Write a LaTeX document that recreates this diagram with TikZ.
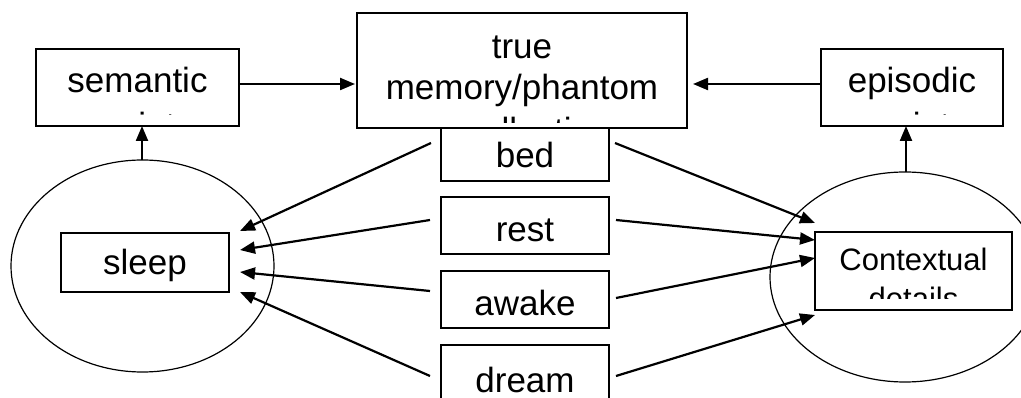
\documentclass[tikz,border=0pt]{standalone}
\usepackage{fontspec}
\setmainfont{Liberation Sans}
\usetikzlibrary{arrows.meta}
\begin{document}
\begin{tikzpicture}[x=1pt,y=-1pt,
  box/.style={draw,line width=1.6pt,rectangle},
  oval/.style={draw,line width=1.2pt},
  big/.style={font=\fontsize{35}{40.5}\selectfont,inner sep=0pt,anchor=base},
  small/.style={font=\fontsize{31}{36}\selectfont,inner sep=0pt,anchor=base},
  arr/.style={line width=2.2pt,-{Triangle[length=15pt,width=12pt]}}]
\useasboundingbox (0,0) rectangle (1021,398);
\clip (0,0) rectangle (1021,398);
% ellipses
\draw[oval] (142.5,266) ellipse [x radius=131.5, y radius=106];
\draw[oval] (905,277) ellipse [x radius=135, y radius=105];
% boxes
\draw[box] (36,49) rectangle (239,126);
\draw[box] (357,13) rectangle (687,128);
\draw[box] (821,49) rectangle (1003,126);
\draw[box] (441,128) rectangle (609,181);
\draw[box] (441,197) rectangle (609,254);
\draw[box] (441,271) rectangle (609,328);
\draw[box] (441,345) rectangle (609,410);
\draw[box] (61,233) rectangle (229,292);
\draw[box] (815,232) rectangle (1012,310);
% named anchors of boxes
\coordinate (semR) at (239,84);
\coordinate (semB) at (142,126);
\coordinate (trueL) at (355,84);
\coordinate (trueR) at (693,84);
\coordinate (epiL) at (821,84);
\coordinate (epiB) at (906,126);
\coordinate (sleepTop) at (142,160);
\coordinate (ctxTop) at (906,172);
% texts (clipped)
\begin{scope}
  \clip (38,51) rectangle (237,114.5);
  \node[big] (semantic) at (137.5,93) {semantic};
  \node[big] (semantic2) at (137.5,137.5) {point};
\end{scope}
\begin{scope}
  \clip (359,15) rectangle (685,123);
  \node[big] (truemem) at (522,59) {true};
  \node[big] (truemem2) at (522,100) {memory/phantom};
  \node[big] (truemem3) at (522,142.5) {recollection};
\end{scope}
\begin{scope}
  \clip (823,51) rectangle (1001,114.5);
  \node[big] (episodic) at (912,93) {episodic};
  \node[big] (episodic2) at (912,137.5) {point};
\end{scope}
\begin{scope}
  \clip (817,234) rectangle (1010,299);
  \node[small] (context) at (913.5,271) {Contextual};
  \node[small] (context2) at (913.5,309.5) {details};
\end{scope}
\node[big] (bed) at (525,168) {bed};
\node[big] (rest) at (525,242) {rest};
\node[big] (awake) at (525,316) {awake};
\node[big] (dream) at (525,392) {dream};
\node[big] (sleep) at (145,275) {sleep};
% top arrows
\draw[arr] (semR) -- (trueL);
\draw[arr] (epiL) -- (trueR);
\draw[arr] (sleepTop) -- (semB);
\draw[arr] (ctxTop) -- (epiB);
% word arrows: start points
\coordinate (bedL) at (431,143);
\coordinate (restL) at (430,220);
\coordinate (awakeL) at (430,291);
\coordinate (dreamL) at (430,376);
\coordinate (bedR) at (615,143);
\coordinate (restR) at (616,220);
\coordinate (awakeR) at (616,298);
\coordinate (dreamR) at (616,376);
% end points at sleep
\coordinate (s1) at (240,231);
\coordinate (s2) at (240,250);
\coordinate (s3) at (240,272);
\coordinate (s4) at (240,292);
% end points at contextual
\coordinate (c1) at (815,223);
\coordinate (c2) at (815,240);
\coordinate (c3) at (815,258);
\coordinate (c4) at (815,315);
\draw[arr] (bedL) -- (s1);
\draw[arr] (restL) -- (s2);
\draw[arr] (awakeL) -- (s3);
\draw[arr] (dreamL) -- (s4);
\draw[arr] (bedR) -- (c1);
\draw[arr] (restR) -- (c2);
\draw[arr] (awakeR) -- (c3);
\draw[arr] (dreamR) -- (c4);
\end{tikzpicture}
\end{document}
